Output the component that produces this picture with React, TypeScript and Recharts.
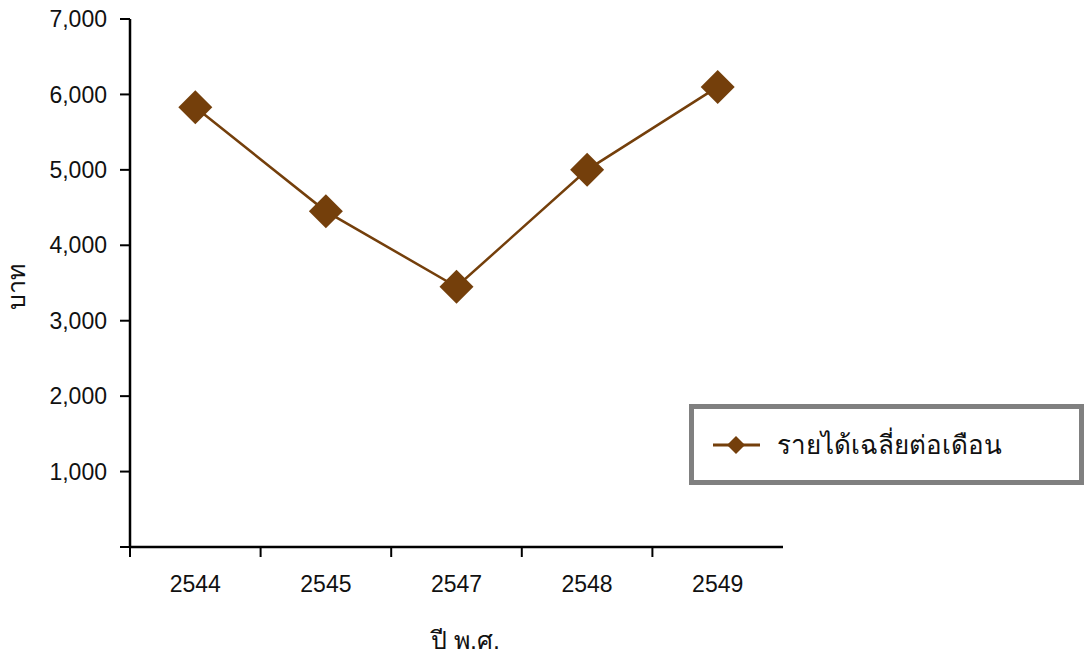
import { Legend, Line, LineChart, XAxis, YAxis } from "recharts";

const years = ["2544", "2545", "2547", "2548", "2549"];
const income = [5830, 4450, 3450, 5000, 6100];
const yTicks = [0, 1000, 2000, 3000, 4000, 5000, 6000, 7000];
const seriesName = "รายได้เฉลี่ยต่อเดือน";
const yLabel = "บาท";
const xLabel = "ปี พ.ศ.";

const data = years.map((year, i) => ({ year, income: income[i] }));

const W = 1084;
const H = 655;
const PLOT_LEFT = 130;
const PLOT_RIGHT = 783;
const PLOT_TOP = 19;
const PLOT_BOTTOM = 547;
const BAND = (PLOT_RIGHT - PLOT_LEFT) / years.length;
const BROWN = "#743f0b";
const FONT = "'Liberation Sans', Arial, 'Noto Sans', sans-serif";

function Diamond({ cx, cy, r, fill }: { cx?: number; cy?: number; r: number; fill: string }) {
  if (cx == null || cy == null) return null;
  return <polygon points={`${cx},${cy - r} ${cx + r},${cy} ${cx},${cy + r} ${cx - r},${cy}`} fill={fill} />;
}

// tick marks sit between the categories, labels under the centre
function XTick(props: any) {
  const { x, y, payload } = props;
  const left = x - BAND / 2;
  return (
    <g>
      <line x1={left} y1={y} x2={left} y2={y + 10} stroke="#000" strokeWidth={2} />
      <text x={x} y={y + 45} textAnchor="middle" fontSize={23} fill="#111" fontFamily={FONT}>
        {payload.value}
      </text>
    </g>
  );
}

function YTitle(props: any) {
  const { viewBox } = props;
  const cx = 16;
  const cy = viewBox.y + viewBox.height / 2 + 4;
  return (
    <text
      x={cx}
      y={cy}
      transform={`rotate(-90, ${cx}, ${cy})`}
      textAnchor="middle"
      dominantBaseline="central"
      fontSize={25}
      fill="#111"
      fontFamily={FONT}
    >
      {yLabel}
    </text>
  );
}

function LegendBox() {
  return (
    <div
      style={{
        boxSizing: "border-box",
        width: 395,
        height: 81,
        border: "5px solid #808080",
        background: "#fff",
        display: "flex",
        alignItems: "center",
      }}
    >
      <svg width={60} height={30} style={{ marginLeft: 14 }}>
        <line x1={5} y1={15} x2={52} y2={15} stroke={BROWN} strokeWidth={3} />
        <Diamond cx={28} cy={15} r={9} fill={BROWN} />
      </svg>
      <span style={{ marginLeft: 9, fontSize: 26, color: "#111", fontFamily: FONT }}>{seriesName}</span>
    </div>
  );
}

export default function App() {
  return (
    <div style={{ position: "absolute", left: 0, top: 0, width: W, height: H, background: "#fff" }}>
      <LineChart
        width={W}
        height={H}
        data={data}
        margin={{ top: PLOT_TOP, right: W - PLOT_RIGHT, bottom: 0, left: 50 }}
      >
        <XAxis
          dataKey="year"
          axisLine={{ stroke: "#000", strokeWidth: 2.5 }}
          tickLine={false}
          tickSize={0}
          tickMargin={0}
          interval={0}
          padding={{ left: BAND / 2, right: BAND / 2 }}
          tick={<XTick />}
          height={H - PLOT_BOTTOM}
          label={{ value: xLabel, position: "insideBottom", offset: 6, dx: 9, fill: "#111", fontSize: 25, fontFamily: FONT }}
        />
        <YAxis
          width={80}
          domain={[0, 7000]}
          ticks={yTicks}
          interval={0}
          axisLine={{ stroke: "#000", strokeWidth: 2.5 }}
          tickLine={{ stroke: "#000", strokeWidth: 2 }}
          tickSize={10}
          tickMargin={13}
          tickFormatter={(v: number) => (v === 0 ? "" : v.toLocaleString("en-US"))}
          tick={{ fill: "#111", fontSize: 23, fontFamily: FONT }}
          label={{ value: yLabel, content: (p: any) => <YTitle {...p} /> }}
        />
        <Legend
          layout="vertical"
          align="center"
          verticalAlign="middle"
          wrapperStyle={{ left: 689, top: 404, width: 395, height: 81 }}
          content={() => <LegendBox />}
        />
        <Line
          type="linear"
          dataKey="income"
          name={seriesName}
          stroke={BROWN}
          strokeWidth={2.5}
          dot={(p: any) => <Diamond key={p.index} cx={p.cx} cy={p.cy} r={17} fill={BROWN} />}
          activeDot={false}
          isAnimationActive={false}
        />
      </LineChart>
    </div>
  );
}
